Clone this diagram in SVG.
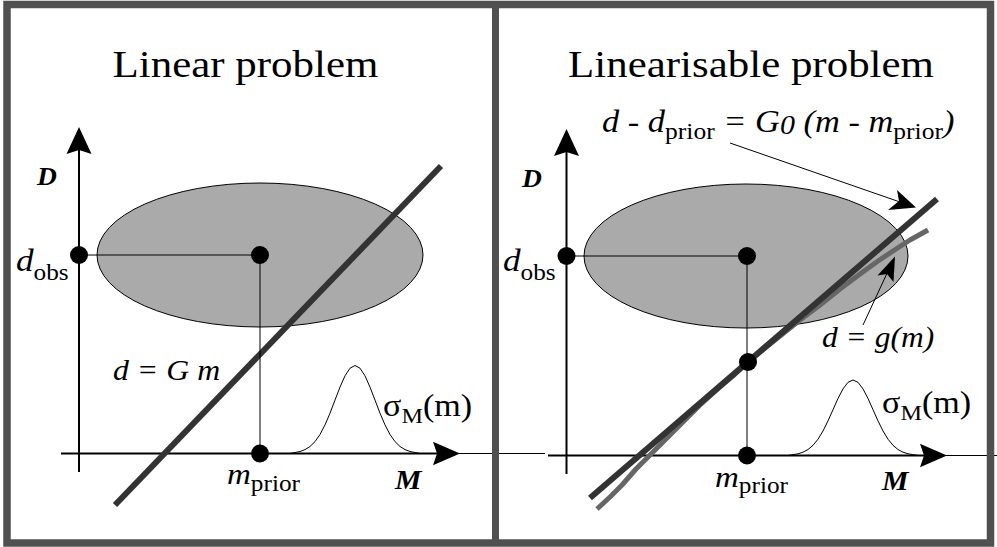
<svg xmlns="http://www.w3.org/2000/svg" width="997" height="547" viewBox="0 0 997 547">
<style>
  text { font-family: "Liberation Serif", "Times New Roman", serif; fill: #000; }
  .title { font-size: 38px; text-anchor: middle; }
  .it { font-style: italic; }
  .up { font-style: normal; }
  .bi { font-style: italic; font-weight: bold; }
  .axis { stroke: #000; stroke-width: 2; fill: none; }
  .thin { stroke: #000; stroke-width: 1; fill: none; }
  .gauss { stroke: #000; stroke-width: 1; fill: none; stroke-linejoin: round; }
  .ell { fill: #aaaaaa; stroke: #000; stroke-width: 1; }
  .dot { fill: #000; }
  .lin { stroke: #333333; stroke-width: 6; fill: none; }
  .nonlin { stroke: #666666; stroke-width: 5; fill: none; stroke-linejoin: round; stroke-linecap: butt; }
  .head { fill: #000; stroke: none; }
</style>

<rect width="997" height="547" fill="#ffffff"/>

<!-- ================= LEFT PANEL ================= -->
<g id="left-panel">
  <g id="left-title">
    <text class="title" transform="translate(245.5,77) scale(1.13,1)" x="0" y="0">Linear problem</text>
  </g>
  <g id="left-prior-ellipse">
    <ellipse class="ell" cx="260" cy="255" rx="163" ry="72"/>
  </g>
  <g id="left-axes">
    <line class="axis" x1="79" y1="472" x2="79" y2="148"/>
    <path class="head" d="M79,127 L66.5,154 L79,150 L91.5,154 Z"/>
    <line class="axis" x1="61" y1="453.5" x2="440" y2="453.5"/>
    <path class="head" d="M460,453.5 L433,441.8 L437,453.5 L433,465.2 Z"/>
    <text class="bi" font-size="25" transform="translate(37,185) scale(1.1,1)">D</text>
    <text class="bi" font-size="27" transform="translate(395,489) scale(1.1,1)">M</text>
  </g>
  <g id="left-gaussian">
    <path class="gauss" d="M290,453.5 L300,451.5 L305,449.6 L310,446.5 L315,441.6 L320,434.5 L325,424.9 L330,413.2 L335,400.1 L340,387.1 L345,375.8 L350,368.2 L355,365.5 L360,368.2 L365,375.8 L370,387.1 L375,400.1 L380,413.2 L385,424.9 L390,434.5 L395,441.6 L400,446.5 L405,449.6 L410,451.5 L420,453.5"/>
    <text transform="translate(383,416) scale(1.1,1)" font-size="31">σ<tspan font-size="22" dy="7">M</tspan><tspan dy="-7">(m)</tspan></text>
  </g>
  <g id="left-forward-line">
    <line class="lin" x1="115" y1="505" x2="441" y2="166"/>
    <text class="it" font-size="30" transform="translate(113,380) scale(1.06,1)">d = G m</text>
  </g>
  <g id="left-dobs">
    <circle class="dot" cx="79" cy="255" r="9"/>
    <text class="it" font-size="32" transform="translate(16,271) scale(1.1,1)">d<tspan class="up" font-size="23" dy="9">obs</tspan></text>
  </g>
  <g id="left-center">
    <circle class="dot" cx="260" cy="255" r="9"/>
  </g>
  <g id="left-mprior">
    <circle class="dot" cx="260" cy="453.5" r="9"/>
    <text class="it" font-size="30" transform="translate(227,484) scale(1.1,1)">m<tspan class="up" font-size="23" dy="7">prior</tspan></text>
  </g>
</g>

<!-- ================= RIGHT PANEL ================= -->
<g id="right-panel">
  <g id="right-title">
    <text class="title" transform="translate(751,77) scale(1.13,1)" x="0" y="0">Linearisable problem</text>
  </g>
  <g id="right-prior-ellipse">
    <ellipse class="ell" cx="746" cy="256" rx="162" ry="72"/>
  </g>
  <g id="right-axes">
    <line class="axis" x1="566.5" y1="474" x2="566.5" y2="150"/>
    <path class="head" d="M566.5,129 L554,156 L566.5,152 L579,156 Z"/>
    <line class="axis" x1="548" y1="455.5" x2="927" y2="455.5"/>
    <path class="head" d="M947,455.5 L920,443.8 L924,455.5 L920,467.2 Z"/>
    <text class="bi" font-size="25" transform="translate(522,187) scale(1.1,1)">D</text>
    <text class="bi" font-size="27" transform="translate(882,490) scale(1.1,1)">M</text>
  </g>
  <g id="right-gaussian">
    <path class="gauss" d="M788,455.5 L798,453.8 L803,452.2 L808,449.5 L813,445.3 L818,439.2 L823,431.0 L828,420.9 L833,409.7 L838,398.5 L843,388.9 L848,382.3 L853,380 L858,382.3 L863,388.9 L868,398.5 L873,409.7 L878,420.9 L883,431.0 L888,439.2 L893,445.3 L898,449.5 L903,452.2 L908,453.8 L918,455.5"/>
    <text transform="translate(882,413) scale(1.1,1)" font-size="31">σ<tspan font-size="22" dy="7">M</tspan><tspan dy="-7">(m)</tspan></text>
  </g>
  <g id="right-nonlinear-curve">
    <path class="nonlin" d="M597,509 L610,497 L622,485 L636,469 L650,455 L665,440 L680,425 L700,405 L720,387 L735,374 L748,362 L765,348 L780,336 L800,320 L820,305 L840,289 L860,274 L878,261 L893,251 L910,240 L928,230"/>
    <text class="it" font-size="30" transform="translate(822,347) scale(1.05,1)">d = g(m)</text>
  </g>
  <g id="right-linearised-line">
    <line class="lin" x1="590" y1="498" x2="937" y2="199"/>
    <text class="it" font-size="31" transform="translate(602,132) scale(1.11,1)">d - d<tspan class="up" font-size="23" dy="7">prior</tspan><tspan dy="-7"> = G</tspan><tspan font-size="27" dy="2">0</tspan><tspan dy="-2"> (m - m</tspan><tspan class="up" font-size="23" dy="7">prior</tspan><tspan dy="-7">)</tspan></text>
  </g>
  <g id="right-dobs">
    <circle class="dot" cx="566.5" cy="256" r="9"/>
    <text class="it" font-size="32" transform="translate(503,271) scale(1.1,1)">d<tspan class="up" font-size="23" dy="9">obs</tspan></text>
  </g>
  <g id="right-center">
    <circle class="dot" cx="747" cy="256" r="9"/>
  </g>
  <g id="right-linpoint">
    <circle class="dot" cx="748" cy="362" r="9"/>
  </g>
  <g id="right-mprior">
    <circle class="dot" cx="747" cy="455.5" r="9"/>
    <text class="it" font-size="30" transform="translate(715,487) scale(1.1,1)">m<tspan class="up" font-size="23" dy="6">prior</tspan></text>
  </g>
</g>

<!-- ================= CONNECTORS ================= -->
<g id="connectors">
  <!-- projection guides, left -->
  <line class="thin" x1="79" y1="255" x2="260" y2="255"/>
  <line class="thin" x1="260" y1="255" x2="260" y2="453.5"/>
  <!-- projection guides, right -->
  <line class="thin" x1="566.5" y1="256" x2="747" y2="256"/>
  <line class="thin" x1="747" y1="256" x2="747" y2="455.5"/>
  <!-- axis continuation -->
  <line class="thin" x1="455" y1="453.5" x2="545" y2="453.5"/>
  <line class="thin" x1="942" y1="455.5" x2="997" y2="455.5"/>
  <!-- annotation arrows -->
  <line class="thin" x1="730" y1="143" x2="900" y2="202"/>
  <path class="head" d="M916,207.5 L888,210 L899,201 L897,190 Z"/>
  <line class="thin" x1="863" y1="325" x2="889" y2="269"/>
  <path class="head" d="M895,256.5 L893.5,282 L887,274 L877.5,275.5 Z"/>
</g>

<!-- ================= FRAME ================= -->
<g id="frame">
  <rect x="7" y="4.5" width="983.5" height="538.5" fill="none" stroke="#505050" stroke-width="7.5"/>
  <line x1="495.5" y1="4.5" x2="495.5" y2="543" stroke="#505050" stroke-width="7"/>
</g>
</svg>
